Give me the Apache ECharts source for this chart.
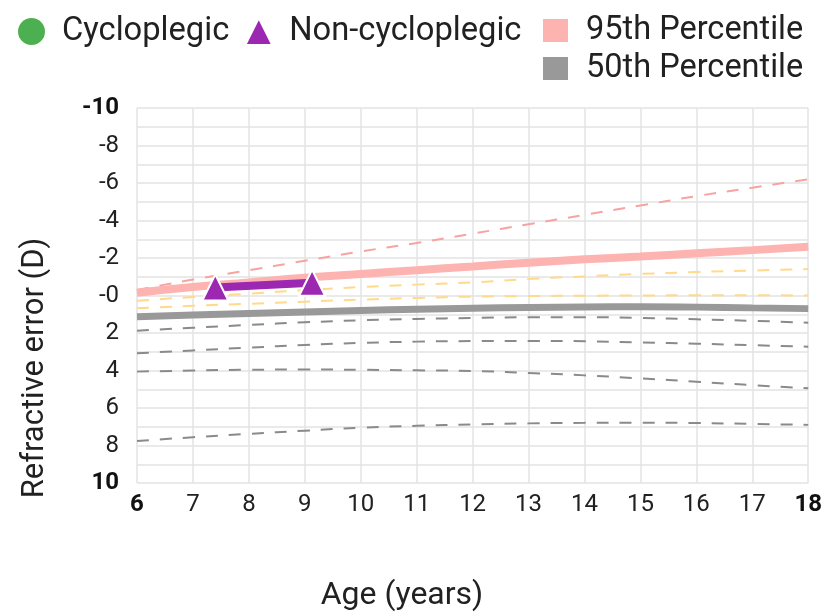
<!DOCTYPE html>
<html>
<head>
<meta charset="utf-8">
<script src="https://cdn.jsdelivr.net/npm/echarts@6/dist/echarts.min.js"></script>
<style>
html,body{margin:0;padding:0;background:#fff;}
#chart{width:825px;height:613px;}
</style>
</head>
<body>
<div id="chart"></div>
<script>
var ages = [6, 7, 8, 9, 10, 11, 12, 13, 14, 15, 16, 17, 18];
var p95 = [-0.15, -0.45, -0.7, -0.95, -1.15, -1.35, -1.55, -1.75, -1.93, -2.08, -2.25, -2.42, -2.6];
var p50 = [1.13, 1.04, 0.96, 0.88, 0.8, 0.73, 0.68, 0.64, 0.61, 0.6, 0.62, 0.66, 0.7];
var pinkDashed = [-0.3, -0.85, -1.35, -1.85, -2.35, -2.8, -3.3, -3.8, -4.3, -4.8, -5.3, -5.75, -6.2];
var yellowUpper = [0.28, 0.08, -0.1, -0.29, -0.45, -0.58, -0.7, -0.88, -1.02, -1.15, -1.25, -1.33, -1.41];
var yellowLower = [0.68, 0.55, 0.44, 0.33, 0.22, 0.13, 0.06, 0.03, 0.01, 0, -0.01, -0.01, 0];
var greyA = [1.88, 1.72, 1.57, 1.43, 1.32, 1.25, 1.2, 1.16, 1.16, 1.2, 1.27, 1.35, 1.45];
var greyB = [3.08, 2.93, 2.78, 2.64, 2.53, 2.46, 2.43, 2.42, 2.44, 2.5, 2.57, 2.65, 2.73];
var greyC = [4.06, 4.0, 3.96, 3.95, 3.96, 3.99, 4.03, 4.13, 4.26, 4.42, 4.6, 4.78, 4.95];
var greyD = [7.76, 7.56, 7.38, 7.21, 7.05, 6.95, 6.88, 6.82, 6.79, 6.78, 6.8, 6.85, 6.9];
var nonCycloAges = [7.4, 9.13];
var nonCycloValues = [-0.43, -0.68];
var cycloAges = [];
var cycloValues = [];

function pairs(xs, ys) { return xs.map(function (x, i) { return [x, ys[i]]; }); }

var FONT = 'Roboto';
function dashed(name, data, color) {
  return {
    name: name, type: 'line', data: pairs(ages, data), smooth: true, symbol: 'none',
    lineStyle: { color: color, width: 2, type: [12, 11] }, silent: true, z: 2
  };
}

var chart = echarts.init(document.getElementById('chart'), null, { renderer: 'canvas' });
chart.setOption({
  animation: false,
  textStyle: { fontFamily: FONT },
  legend: [
    {
      left: 13, top: 10, itemWidth: 27, itemHeight: 27, itemGap: 15,
      data: [
        { name: 'Cycloplegic', icon: 'circle' },
        { name: 'Non-cycloplegic', icon: 'triangle' }
      ],
      textStyle: { fontFamily: FONT, fontSize: 32.7, color: '#212121', padding: [0, 0, 0, 12] }
    },
    {
      left: 538, top: 9, orient: 'vertical', itemWidth: 25, itemHeight: 23, itemGap: 5,
      data: [
        { name: '95th Percentile', icon: 'rect' },
        { name: '50th Percentile', icon: 'rect' }
      ],
      textStyle: { fontFamily: FONT, fontSize: 32.5, lineHeight: 32, color: '#212121', padding: [0, 0, 0, 13] }
    }
  ],
  grid: { left: 137, right: 15, top: 108, bottom: 130 },
  xAxis: {
    type: 'value', min: 6, max: 18, interval: 1,
    axisLine: { show: false }, axisTick: { show: false },
    splitLine: { show: true, lineStyle: { color: '#e3e3e3', width: 1.5 } },
    axisLabel: {
      margin: 10, fontFamily: FONT, fontSize: 24, color: '#212121',
      formatter: function (v) { return (v === 6 || v === 18) ? '{b|' + v + '}' : String(v); },
      rich: { b: { fontFamily: FONT, fontSize: 24, fontWeight: 'bold', color: '#111' } }
    }
  },
  yAxis: {
    type: 'value', min: -10, max: 10, interval: 1, inverse: true,
    axisLine: { show: false }, axisTick: { show: false },
    splitLine: { show: true, lineStyle: { color: '#e3e3e3', width: 1.5 } },
    axisLabel: {
      margin: 18, fontFamily: FONT, fontSize: 24, color: '#212121',
      formatter: function (v) {
        if (Math.abs(v) % 2 !== 0) return '';
        var s = v <= 0 ? '-' + Math.abs(v) : String(v);
        return (v === -10 || v === 10) ? '{b|' + s + '}' : s;
      },
      rich: { b: { fontFamily: FONT, fontSize: 24, fontWeight: 'bold', color: '#111' } }
    }
  },
  graphic: [
    { type: 'text', x: 402, y: 596,
      style: { text: 'Age (years)', fontFamily: FONT, fontSize: 32, fill: '#212121',
               align: 'center', verticalAlign: 'middle' } },
    { type: 'text', rotation: Math.PI / 2, x: 35, y: 368,
      style: { text: 'Refractive error (D)', fontFamily: FONT, fontSize: 31, fill: '#212121',
               align: 'center', verticalAlign: 'middle' } }
  ],
  series: [
    dashed('d1', pinkDashed, '#f7a3a0'),
    dashed('d2', yellowUpper, '#ffd98c'),
    dashed('d3', yellowLower, '#ffd98c'),
    dashed('d4', greyA, '#8a8a8a'),
    dashed('d5', greyB, '#8a8a8a'),
    dashed('d6', greyC, '#8a8a8a'),
    dashed('d7', greyD, '#8a8a8a'),
    { name: '95th Percentile', type: 'line', data: pairs(ages, p95), smooth: true, symbol: 'none',
      itemStyle: { color: '#fdb3b0' }, lineStyle: { color: '#fdb3b0', width: 8 }, z: 3 },
    { name: '50th Percentile', type: 'line', data: pairs(ages, p50), smooth: true, symbol: 'none',
      itemStyle: { color: '#999999' }, lineStyle: { color: '#999999', width: 7 }, z: 3 },
    { name: 'Cycloplegic', type: 'line', data: pairs(cycloAges, cycloValues), symbol: 'circle',
      itemStyle: { color: '#4caf50' }, lineStyle: { color: '#4caf50', width: 8 }, z: 4 },
    { name: 'Non-cycloplegic', type: 'line', data: pairs(nonCycloAges, nonCycloValues),
      symbol: 'triangle', symbolSize: 26,
      itemStyle: { color: '#9c27b0', borderColor: '#ffffff', borderWidth: 2 },
      lineStyle: { color: '#9c27b0', width: 8 }, z: 5 }
  ]
});
</script>
</body>
</html>
